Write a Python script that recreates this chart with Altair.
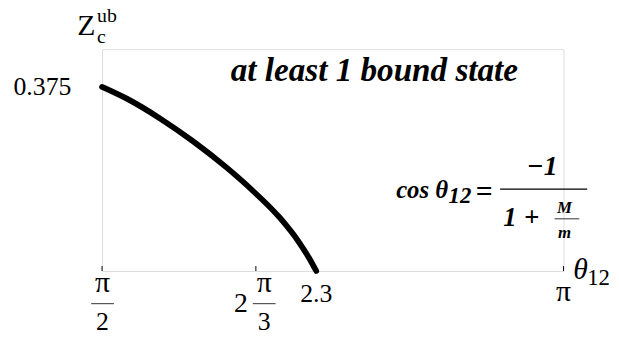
import math
import altair as alt
import pandas as pd

PI = math.pi

# ---- data ----
theta = [PI / 2, 1.655, 1.770, 1.881, 1.992, 2.083, 2.178, 2.242, 2.275, 2.30]
z_ub = [0.375, 0.351, 0.310, 0.264, 0.212, 0.164, 0.107, 0.058, 0.027, 0.0]

x_tick_values = [PI / 2, 2 * PI / 3, 2.3, PI]
num_x_labels = ["2.3"]
num_x_values = [2.3]
pi_x_labels = ["π"]
pi_x_values = [PI]
frac_x_values = [PI / 2, 2 * PI / 3]
frac_num = ["π", "π"]
frac_den = ["2", "3"]
y_tick_values = [0.375]
y_tick_labels = ["0.375"]

title_text = ["at least 1 bound state"]
formula_lhs = ["cos θ"]
formula_sub = ["12"]
formula_eq = ["="]
formula_num = ["−1"]
formula_den_one = ["1"]
formula_plus = ["+"]
formula_M = ["M"]
formula_m = ["m"]
ytitle_main = ["Z"]
ytitle_sup = ["ub"]
ytitle_sub = ["c"]
xtitle_main = ["θ"]
xtitle_sub = ["12"]

W, H = 466, 224
SERIF = "Liberation Serif"
SERIF_BI = "Times New Roman, Liberation Serif, Times, serif"

xs = alt.Scale(domain=[PI / 2, PI], nice=False, zero=False)
ys = alt.Scale(domain=[0, 0.4517], nice=False, zero=False)

axis_style = dict(domain=True, ticks=False, labels=False, grid=False, title=None,
                  domainColor="black", domainWidth=1)

curve_df = pd.DataFrame({"theta": theta, "z": z_ub})
curve = alt.Chart(curve_df).mark_line(
    color="black", strokeWidth=5.8, strokeCap="round", interpolate="monotone"
).encode(
    x=alt.X("theta:Q", scale=xs, axis=alt.Axis(**axis_style)),
    y=alt.Y("z:Q", scale=ys, axis=alt.Axis(**axis_style)),
)

ticks_df = pd.DataFrame({"v": x_tick_values})
ticks = alt.Chart(ticks_df).mark_rule(color="black", strokeWidth=1).encode(
    x=alt.X("v:Q", scale=xs, axis=None),
    y=alt.value(H), y2=alt.value(H - 5),
)

def text_df(vals, texts):
    return pd.DataFrame({"v": vals, "t": texts})

num_lab = alt.Chart(text_df(num_x_values, num_x_labels)).mark_text(
    font=SERIF, fontSize=26, color="black", baseline="alphabetic", align="center"
).encode(x=alt.X("v:Q", scale=xs, axis=None), y=alt.value(255), text="t:N")
pi_lab = alt.Chart(text_df(pi_x_values, pi_x_labels)).mark_text(
    font=SERIF, fontSize=30, color="black", baseline="alphabetic", align="center"
).encode(x=alt.X("v:Q", scale=xs, axis=None), y=alt.value(254), text="t:N")

layers = [curve, ticks, num_lab, pi_lab]

frac_offsets = [0.5, 8.4]
for v, num, den, off in zip(frac_x_values, frac_num, frac_den, frac_offsets):
    d = text_df([v], [num])
    layers.append(alt.Chart(d).mark_text(
        font=SERIF, fontSize=30, color="black", baseline="alphabetic", align="center", dx=off
    ).encode(x=alt.X("v:Q", scale=xs, axis=None), y=alt.value(245), text="t:N"))
    d2 = text_df([v], [den])
    layers.append(alt.Chart(d2).mark_text(
        font=SERIF, fontSize=26, color="black", baseline="alphabetic", align="center", dx=off
    ).encode(x=alt.X("v:Q", scale=xs, axis=None), y=alt.value(284), text="t:N"))
    layers.append(alt.Chart(d).mark_rule(
        color="#333333", strokeWidth=1, xOffset=off - 11.5, x2Offset=off + 11.5
    ).encode(x=alt.X("v:Q", scale=xs, axis=None), x2="v:Q", y=alt.value(257)))

# the leading "2" of 2π/3
layers.append(alt.Chart(text_df([2 * PI / 3], ["2"])).mark_text(
    font=SERIF, fontSize=28, color="black", baseline="alphabetic", align="center", dx=-15
).encode(x=alt.X("v:Q", scale=xs, axis=None), y=alt.value(265), text="t:N"))

# y tick label
layers.append(alt.Chart(pd.DataFrame({"v": y_tick_values, "t": y_tick_labels})).mark_text(
    font=SERIF, fontSize=26, color="black", baseline="middle", align="right", dx=-31
).encode(x=alt.value(0), y=alt.Y("v:Q", scale=ys, axis=None), text="t:N"))


def ann(texts, x, y, size, align="left", baseline="alphabetic", style="normal",
        weight="normal", font=SERIF):
    return alt.Chart(pd.DataFrame({"t": texts})).mark_text(
        font=font, fontSize=size, color="black", align=align, baseline=baseline,
        fontStyle=style, fontWeight=weight,
    ).encode(x=alt.value(x), y=alt.value(y), text="t:N")


BI = dict(style="italic", weight="bold", font=SERIF_BI)
layers += [
    ann(title_text, 275, 32, 33.5, align="center", **BI),
    ann(formula_lhs, 297, 150, 25, **BI),
    ann(formula_sub, 350, 155, 23, **BI),
    ann(formula_eq, 386, 144, 30, align="center", baseline="middle", weight="bold", font=SERIF_BI),
    ann(formula_num, 444.5, 127, 28, align="center", **BI),
    ann(formula_den_one, 412, 179, 27, align="center", **BI),
    ann(formula_plus, 434, 171, 27, align="center", baseline="middle", weight="bold", font=SERIF_BI),
    ann(formula_M, 467, 165, 17, align="center", **BI),
    ann(formula_m, 467, 191, 17, align="center", **BI),
    ann(ytitle_main, -25, -14, 30),
    ann(ytitle_sup, -5, -27, 20),
    ann(ytitle_sub, -5, -6, 20),
    ann(xtitle_main, 476, 232, 30, style="italic"),
    ann(xtitle_sub, 490, 238, 23),
]

bar_df = pd.DataFrame({"a": [0]})
layers.append(alt.Chart(bar_df).mark_rule(color="black", strokeWidth=1.3).encode(
    x=alt.value(402), x2=alt.value(490), y=alt.value(141.3)))
layers.append(alt.Chart(bar_df).mark_rule(color="#333333", strokeWidth=1).encode(
    x=alt.value(457), x2=alt.value(482), y=alt.value(171.3)))

chart = alt.layer(*layers).properties(
    width=W, height=H,
    autosize=alt.AutoSizeParams(type="none"),
    padding={"left": 95, "top": 40, "right": 48, "bottom": 62},
).configure_view(stroke=None).configure(background="white")

chart.save("out.html", embed_options={"renderer": "svg", "actions": False})
